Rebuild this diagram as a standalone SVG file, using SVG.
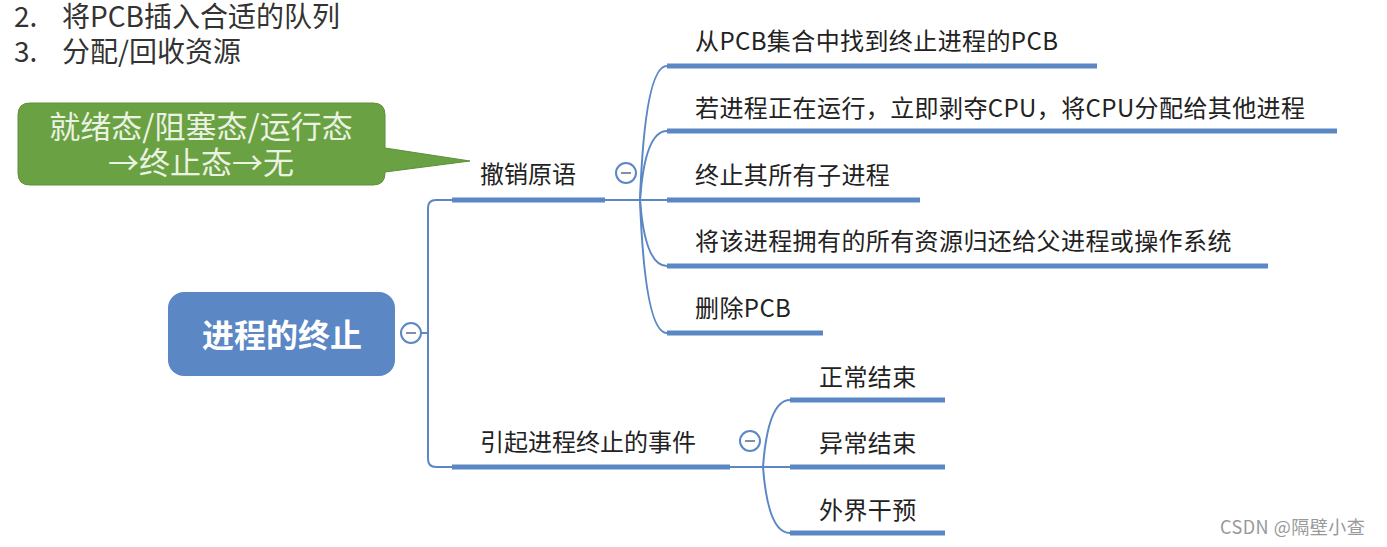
<svg xmlns="http://www.w3.org/2000/svg" width="1387" height="547" viewBox="0 0 1387 547">
<style>
.t{font-family:"Noto Sans CJK SC","Noto Sans",sans-serif;fill:#222;}
.top{font-size:28px;fill:#333;}
.b{font-size:24px;}
.c{font-size:24px;letter-spacing:0.4px;}
.ul{stroke:#5b87c5;stroke-width:5;fill:none;}
.ln{stroke:#5b87c5;stroke-width:2;fill:none;}
.cc{fill:#fff;stroke:#5b87c5;stroke-width:2;}
.mn{stroke:#8090a8;stroke-width:2;}
</style>
<rect width="1387" height="547" fill="#fff"/>
<g id="header">
<text class="t top" x="14" y="27">2.</text>
<text class="t top" x="62" y="27">将PCB插入合适的队列</text>
<text class="t top" x="14" y="62">3.</text>
<text class="t top" x="62" y="62">分配/回收资源</text>
</g>
<g id="callout">
<path d="M30,103 H373 Q385,103 385,115 V148 L470,161 L385,172 V173 Q385,185 373,185 H30 Q18,185 18,173 V115 Q18,103 30,103 Z" fill="#6aa143" stroke="#5c8f3a" stroke-width="1"/>
<text class="t" x="201" y="138" font-size="31" text-anchor="middle" style="fill:#eaf2e2">就绪态/阻塞态/运行态</text>
<text class="t" x="201" y="174" font-size="31" text-anchor="middle" style="fill:#eaf2e2">→终止态→无</text>
</g>
<g id="connectors">
<path class="ln" d="M421,333 H428 M452,200 H436 Q428,200 428,208 V459 Q428,467 436,467 H452"/>
<line class="ln" x1="605" y1="200" x2="667" y2="200"/>
<path class="ln" d="M640,200 Q645,66 667,66"/>
<path class="ln" d="M640,200 Q645,131 667,131"/>
<path class="ln" d="M640,200 Q645,266 667,266"/>
<path class="ln" d="M640,200 Q645,333 667,333"/>
<line class="ln" x1="730" y1="467" x2="790" y2="467"/>
<path class="ln" d="M763,467 Q768,400 790,400"/>
<path class="ln" d="M763,467 Q768,533 790,533"/>
</g>
<g id="root">
<rect x="168" y="292" width="227" height="84" rx="16" fill="#5b87c5"/>
<text class="t" x="282" y="347" font-size="32" font-weight="bold" text-anchor="middle" style="fill:#fff">进程的终止</text>
<circle class="cc" cx="411" cy="333" r="10"/>
<line class="mn" x1="406" y1="333" x2="416" y2="333"/>
</g>
<g id="n-chexiao">
<text class="t b" x="480" y="183">撤销原语</text>
<line class="ul" x1="452" y1="200" x2="605" y2="200"/>
<circle class="cc" cx="626" cy="173" r="10"/>
<line class="mn" x1="621" y1="173" x2="631" y2="173"/>
</g>
<g id="n-c1">
<text class="t c" x="695" y="50">从PCB集合中找到终止进程的PCB</text>
<line class="ul" x1="667" y1="66" x2="1097" y2="66"/>
</g>
<g id="n-c2">
<text class="t c" x="695" y="117">若进程正在运行，立即剥夺CPU，将CPU分配给其他进程</text>
<line class="ul" x1="667" y1="131" x2="1337" y2="131"/>
</g>
<g id="n-c3">
<text class="t c" x="695" y="184">终止其所有子进程</text>
<line class="ul" x1="667" y1="200" x2="920" y2="200"/>
</g>
<g id="n-c4">
<text class="t c" x="695" y="250">将该进程拥有的所有资源归还给父进程或操作系统</text>
<line class="ul" x1="667" y1="266" x2="1268" y2="266"/>
</g>
<g id="n-c5">
<text class="t c" x="695" y="317">删除PCB</text>
<line class="ul" x1="667" y1="333" x2="823" y2="333"/>
</g>
<g id="n-event">
<text class="t b" x="480" y="451">引起进程终止的事件</text>
<line class="ul" x1="452" y1="467" x2="730" y2="467"/>
<circle class="cc" cx="750" cy="441" r="10"/>
<line class="mn" x1="745" y1="441" x2="755" y2="441"/>
</g>
<g id="n-e1">
<text class="t c" x="819" y="386">正常结束</text>
<line class="ul" x1="790" y1="400" x2="945" y2="400"/>
</g>
<g id="n-e2">
<text class="t c" x="819" y="452">异常结束</text>
<line class="ul" x1="790" y1="467" x2="945" y2="467"/>
</g>
<g id="n-e3">
<text class="t c" x="819" y="519">外界干预</text>
<line class="ul" x1="790" y1="533" x2="945" y2="533"/>
</g>
<g id="watermark">
<text class="t" x="1220" y="534" font-size="18" letter-spacing="0.5" style="fill:#999">CSDN @隔壁小查</text>
</g>
</svg>
